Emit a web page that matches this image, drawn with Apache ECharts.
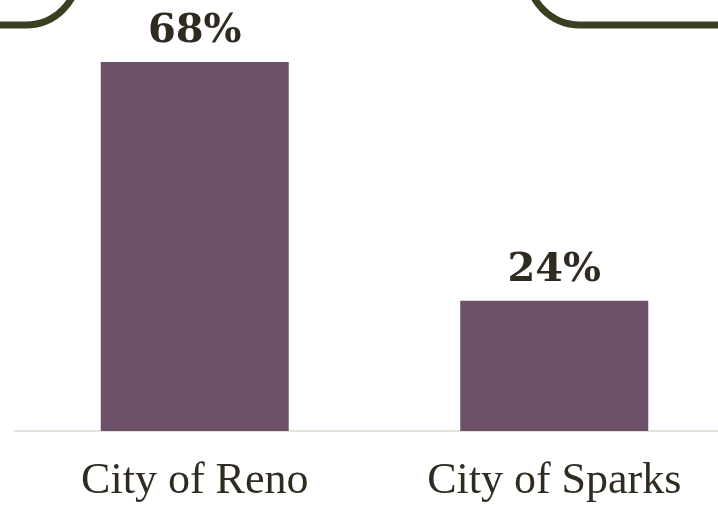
<!DOCTYPE html>
<html>
<head>
<meta charset="utf-8">
<title>City share</title>
<script src="https://cdn.jsdelivr.net/npm/echarts@6/dist/echarts.min.js"></script>
<style>
  html, body { margin: 0; padding: 0; background: #ffffff; }
  #chart { width: 718px; height: 505px; }
</style>
</head>
<body>
<div id="chart"></div>
<script>
// Share of respondents by city
const categories = ['City of Reno', 'City of Sparks'];
const shares = [68, 24];

const chart = echarts.init(document.getElementById('chart'), null, { renderer: 'canvas' });

chart.setOption({
  animation: false,
  backgroundColor: '#ffffff',
  // the plot runs slightly past the right edge so the two bands are wide
  grid: {
    left: 15, width: 719, top: 62, bottom: 74,
    containLabel: false,
    outerBoundsMode: 'none'
  },
  xAxis: {
    type: 'category',
    data: categories,
    axisTick: { show: false },
    axisLine: { show: true, lineStyle: { color: '#e6e3dc', width: 2 } },
    axisLabel: {
      margin: 28,
      color: '#2f2b21',
      fontFamily: 'Liberation Serif',
      fontSize: 44
    }
  },
  yAxis: {
    type: 'value',
    min: 0,
    max: 68,
    show: false,
    splitLine: { show: false }
  },
  series: [{
    type: 'bar',
    data: shares,
    barWidth: 188,
    itemStyle: { color: '#6d5169' },
    label: {
      show: true,
      position: 'top',
      distance: 10,
      formatter: p => p.value + '%',
      color: '#2f2b21',
      fontFamily: 'DejaVu Serif',
      fontWeight: 'bold',
      fontSize: 40
    }
  }],
  graphic: [
    {
      type: 'rect',
      shape: { x: -300, y: -200, width: 378, height: 225, r: 52 },
      style: { fill: 'none', stroke: '#3b3f21', lineWidth: 7 }
    },
    {
      type: 'rect',
      shape: { x: 528, y: -200, width: 500, height: 225, r: 52 },
      style: { fill: 'none', stroke: '#3b3f21', lineWidth: 7 }
    }
  ]
});
</script>
</body>
</html>
